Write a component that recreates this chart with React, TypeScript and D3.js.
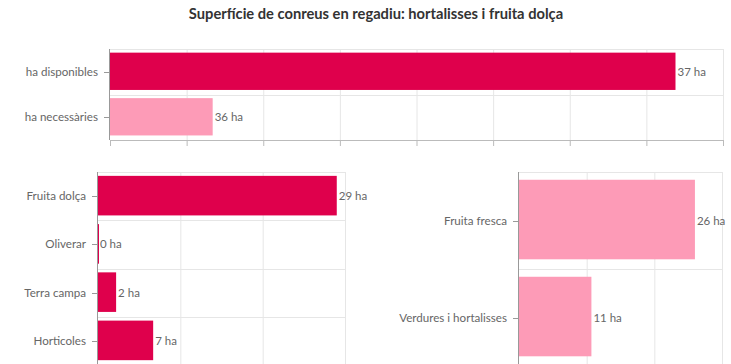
import React, { useEffect, useRef } from 'react';
import * as d3 from 'd3';

const WIDTH = 731;
const HEIGHT = 364;
const DARK = '#df004c';
const LIGHT = '#fd9bb7';

// top panel
const topCategories = ['ha disponibles', 'ha necessàries'];
const topValues = [36.9, 6.7];
const topLabels = ['37 ha', '36 ha'];
const topColors = [DARK, LIGHT];
const topTicks = [0, 5, 10, 15, 20, 25, 30, 35, 40];

// bottom left panel
const leftCategories = ['Fruita dolça', 'Oliverar', 'Terra campa', 'Horticoles'];
const leftValues = [29, 0, 2.2, 6.7];
const leftLabels = ['29 ha', '0 ha', '2 ha', '7 ha'];
const leftTicks = [0, 10, 20, 30];

// bottom right panel
const rightCategories = ['Fruita fresca', 'Verdures i hortalisses'];
const rightValues = [26, 10.7];
const rightLabels = ['26 ha', '11 ha'];
const rightTicks = [0, 10, 20, 30];

interface Panel {
  categories: string[];
  values: number[];
  labels: string[];
  colors: string[];
  ticks: number[];
  x0: number;
  x1: number;
  y0: number;
  y1: number;
  bottomAxis: boolean;
}

export default function App() {
  const svgRef = useRef<SVGSVGElement>(null);

  useEffect(() => {
    if (!svgRef.current) return;
    const svg = d3.select(svgRef.current);
    svg.selectAll('*').remove();

    svg
      .append('text')
      .attr('x', 376)
      .attr('y', 19)
      .attr('text-anchor', 'middle')
      .style('font-family', 'Lato, sans-serif')
      .style('font-size', '14.7px')
      .style('font-weight', '700')
      .style('fill', '#333')
      .text('Superfície de conreus en regadiu: hortalisses i fruita dolça');

    const panels: Panel[] = [
      { categories: topCategories, values: topValues, labels: topLabels, colors: topColors, ticks: topTicks, x0: 110, x1: 723, y0: 49, y1: 140, bottomAxis: true },
      { categories: leftCategories, values: leftValues, labels: leftLabels, colors: leftCategories.map(() => DARK), ticks: leftTicks, x0: 98, x1: 345, y0: 172, y1: 365, bottomAxis: false },
      { categories: rightCategories, values: rightValues, labels: rightLabels, colors: rightCategories.map(() => LIGHT), ticks: rightTicks, x0: 519, x1: 722, y0: 172, y1: 366, bottomAxis: false },
    ];

    panels.forEach((p) => {
      const x = d3.scaleLinear().domain([p.ticks[0], p.ticks[p.ticks.length - 1]]).range([p.x0, p.x1]);
      const y = d3.scaleBand<string>().domain(p.categories).range([p.y0, p.y1]).padding(0);
      const g = svg.append('g');

      // vertical grid
      g.selectAll('.vgrid')
        .data(p.ticks.slice(1))
        .enter()
        .append('line')
        .attr('x1', (d) => x(d) + 0.5)
        .attr('x2', (d) => x(d) + 0.5)
        .attr('y1', p.y0)
        .attr('y2', p.y1)
        .attr('stroke', '#e6e6e6');

      // horizontal grid at band edges
      const edges = p.categories.map((c) => y(c) as number);
      g.selectAll('.hgrid')
        .data(edges)
        .enter()
        .append('line')
        .attr('x1', p.x0)
        .attr('x2', p.x1)
        .attr('y1', (d) => Math.round(d) + 0.5)
        .attr('y2', (d) => Math.round(d) + 0.5)
        .attr('stroke', '#e6e6e6');

      const bw = y.bandwidth();
      g.selectAll('.bar')
        .data(p.categories)
        .enter()
        .append('rect')
        .attr('x', p.x0)
        .attr('y', (d) => (y(d) as number) + bw * 0.08)
        .attr('width', (d, i) => Math.max(1, x(p.values[i]) - p.x0))
        .attr('height', bw * 0.82)
        .attr('fill', (d, i) => p.colors[i]);

      g.selectAll('.val')
        .data(p.categories)
        .enter()
        .append('text')
        .attr('x', (d, i) => x(p.values[i]) + 2)
        .attr('y', (d) => (y(d) as number) + bw / 2)
        .attr('dy', '0.35em')
        .style('font-family', 'Lato, sans-serif')
        .style('font-size', '11.5px')
        .style('fill', '#666')
        .text((d, i) => p.labels[i]);

      // left axis
      g.append('line')
        .attr('x1', p.x0 - 0.5)
        .attr('x2', p.x0 - 0.5)
        .attr('y1', p.y0)
        .attr('y2', p.y1)
        .attr('stroke', '#999');
      g.selectAll('.ytick')
        .data(p.categories)
        .enter()
        .append('line')
        .attr('x1', p.x0 - 6)
        .attr('x2', p.x0)
        .attr('y1', (d) => Math.round((y(d) as number) + bw / 2) + 0.5)
        .attr('y2', (d) => Math.round((y(d) as number) + bw / 2) + 0.5)
        .attr('stroke', '#999');
      g.selectAll('.ylab')
        .data(p.categories)
        .enter()
        .append('text')
        .attr('x', p.x0 - 12)
        .attr('y', (d) => (y(d) as number) + bw / 2)
        .attr('dy', '0.35em')
        .attr('text-anchor', 'end')
        .style('font-family', 'Lato, sans-serif')
        .style('font-size', '11.6px')
        .style('fill', '#666')
        .text((d) => d);

      if (p.bottomAxis) {
        g.append('line')
          .attr('x1', p.x0)
          .attr('x2', p.x1 + 1)
          .attr('y1', p.y1 + 0.5)
          .attr('y2', p.y1 + 0.5)
          .attr('stroke', '#bbb');
        g.selectAll('.xtick')
          .data(p.ticks)
          .enter()
          .append('line')
          .attr('x1', (d) => x(d) + 0.5)
          .attr('x2', (d) => x(d) + 0.5)
          .attr('y1', p.y1)
          .attr('y2', p.y1 + 6)
          .attr('stroke', '#bbb');
      }
    });
  }, []);

  return (
    <svg
      ref={svgRef}
      width={WIDTH}
      height={HEIGHT}
      style={{ position: 'absolute', left: 0, top: 0, background: '#fff' }}
    />
  );
}
